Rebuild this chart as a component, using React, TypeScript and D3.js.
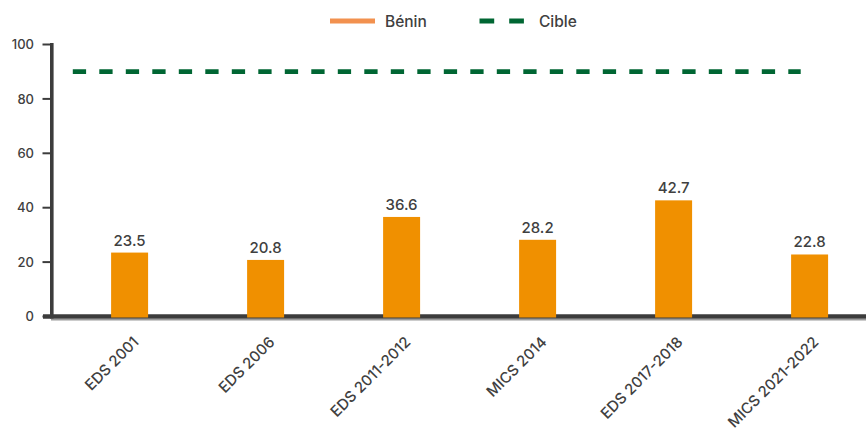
import React from "react";
import * as d3 from "d3";

const categories = ["EDS 2001", "EDS 2006", "EDS 2011-2012", "MICS 2014", "EDS 2017-2018", "MICS 2021-2022"];
const beninValues = [23.5, 20.8, 36.6, 28.2, 42.7, 22.8];
const targetValue = 90;
const yTicks = [0, 20, 40, 60, 80, 100];
const legendLabels = ["Bénin", "Cible"];

const W = 866;
const H = 429;
const FONT = "Inter, 'DejaVu Sans', sans-serif";
const TEXT = "#404040";
const AXIS = "#3c3c3c";
const BAR = "#F09000";
const GREEN = "#006633";

export default function App() {
  const x = d3.scaleBand<string>().domain(categories).range([61.6, 877.6]).paddingInner(0.728).paddingOuter(0.364);
  const y = d3.scaleLinear().domain([0, 100]).range([316.5, 44.5]);
  const axisX = 51.8;
  const bw = x.bandwidth();
  const lineStart = axisX + 21;
  const lineEnd = (x(categories[categories.length - 1]) as number) + 9.6;

  return (
    <svg width={W} height={H} style={{ position: "absolute", left: 0, top: 0, background: "#fff" }}>
      {/* legend */}
      <g>
        <line x1={330} x2={375} y1={21} y2={21} stroke="#F2914F" strokeWidth={5} />
        <text x={385} y={26.5} fontFamily={FONT} fontWeight={500} fontSize={15.5} fill={TEXT}>{legendLabels[0]}</text>
        <line x1={479.5} x2={524} y1={21} y2={21} stroke={GREEN} strokeWidth={5} strokeDasharray="14.7 15" />
        <text x={539} y={26.5} fontFamily={FONT} fontWeight={500} fontSize={15.5} fill={TEXT}>{legendLabels[1]}</text>
      </g>

      {/* y ticks */}
      {yTicks.map((t) => (
        <g key={t}>
          <line x1={42.5} x2={axisX} y1={y(t)} y2={y(t)} stroke={AXIS} strokeWidth={2} />
          <text x={34} y={y(t)} dy="0.36em" textAnchor="end" fontFamily={FONT} fontWeight={500} fontSize={13} fill={TEXT}>{t}</text>
        </g>
      ))}

      {/* axes */}
      <line x1={axisX} x2={axisX} y1={y(100) - 1.5} y2={y(0) + 2} stroke={AXIS} strokeWidth={3.6} />
      <line x1={51} x2={W} y1={y(0) + 3.3} y2={y(0) + 3.3} stroke="#9a9a9a" strokeWidth={1.5} />
      <line x1={43} x2={W} y1={y(0)} y2={y(0)} stroke={AXIS} strokeWidth={4.5} />

      {/* bars */}
      {categories.map((c, i) => (
        <g key={c}>
          <rect x={x(c)} y={y(beninValues[i])} width={bw} height={y(0) + 1 - y(beninValues[i])} fill={BAR} />
          <text x={(x(c) as number) + bw / 2} y={y(beninValues[i]) - 7} textAnchor="middle" fontFamily={FONT} fontWeight={500} fontSize={15} fill={TEXT}>
            {beninValues[i].toFixed(1)}
          </text>
          <text
            transform={`translate(${(x(c) as number) + bw / 2 + 10},${343}) rotate(-45)`}
            textAnchor="end"
            fontFamily={FONT}
            fontWeight={500}
            fontSize={15}
            fill={TEXT}
          >
            {c}
          </text>
        </g>
      ))}

      {/* target line */}
      <line x1={lineStart} x2={lineEnd} y1={y(targetValue)} y2={y(targetValue)} stroke={GREEN} strokeWidth={4.8} strokeDasharray="13.3 13.2" />
    </svg>
  );
}
